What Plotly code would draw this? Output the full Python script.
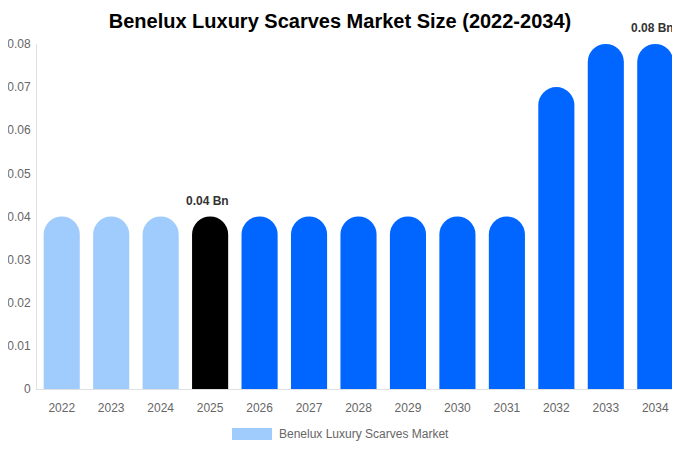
import plotly.graph_objects as go

# data
years = ['2022', '2023', '2024', '2025', '2026', '2027', '2028',
         '2029', '2030', '2031', '2032', '2033', '2034']
market_size = [0.04, 0.04, 0.04, 0.04, 0.04, 0.04, 0.04,
               0.04, 0.04, 0.04, 0.07, 0.08, 0.08]
bar_labels = ['', '', '', '0.04 Bn', '', '', '', '', '', '', '', '', '0.08 Bn']
bar_colors = ['#a0cbfd'] * 3 + ['#000000'] + ['#0066ff'] * 9
y_ticks = [0, 0.01, 0.02, 0.03, 0.04, 0.05, 0.06, 0.07, 0.08]
series_name = 'Benelux Luxury Scarves Market'

FONT = 'Liberation Sans, Arial, sans-serif'

fig = go.Figure()
fig.add_trace(go.Bar(
    x=years, y=market_size, name=series_name,
    marker=dict(color=bar_colors, cornerradius='50%', line_width=0),
    cliponaxis=False, showlegend=False,
))

# value labels above the highlighted bars (x as category index, since
# year strings would be read as numbers by annotations)
for i, (val, lab) in enumerate(zip(market_size, bar_labels)):
    if lab:
        fig.add_annotation(x=i, y=val, text='<b>%s</b>' % lab, showarrow=False,
                           yanchor='middle', yshift=16, xshift=-3,
                           font=dict(size=12, color='#333333', family=FONT))

# legend drawn by hand: wide swatch + label, like the original
fig.add_shape(type='rect', xref='paper', yref='paper',
              x0=0.3033, x1=0.3655, y0=-0.113, y1=-0.148,
              fillcolor='#a0cbfd', line_width=0)
fig.add_annotation(text=series_name, xref='paper', yref='paper',
                   x=0.374, y=-0.1305, xanchor='left', yanchor='middle',
                   showarrow=False, font=dict(size=12, color='#666666', family=FONT))

# page body has an 8px default margin: shrink the figure so it fits the window
fig.update_layout(
    width=672, height=442,
    margin=dict(l=29, r=0, t=36, b=61, autoexpand=False),
    paper_bgcolor='white', plot_bgcolor='white',
    font=dict(family=FONT, color='#666666', size=12),
    title=dict(text='<b>Benelux Luxury Scarves Market Size (2022-2034)</b>',
               x=0.494, xanchor='center', y=0.9706, yanchor='middle',
               font=dict(size=20, color='#000000')),
    bargap=0.27,
    xaxis=dict(type='category', showgrid=False, showline=True, linecolor='#e0e0e0',
               linewidth=1, ticks='', ticklabelstandoff=8, automargin=False,
               tickfont=dict(size=12, color='#666666')),
    yaxis=dict(range=[0, 0.08], tickvals=y_ticks, showgrid=False, zeroline=False,
               showline=True, linecolor='#e0e0e0', linewidth=1, ticks='',
               ticklabelstandoff=3, automargin=False,
               tickfont=dict(size=12, color='#666666')),
)

fig.write_html("out.html")
